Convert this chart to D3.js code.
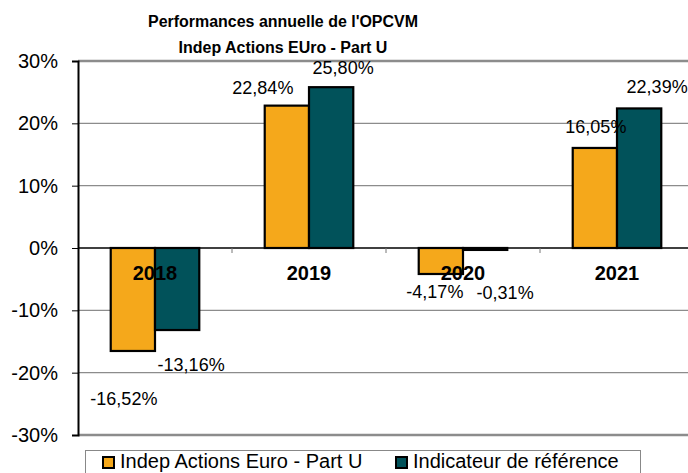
<!DOCTYPE html>
<html>
<head>
<meta charset="utf-8">
<script src="https://cdn.jsdelivr.net/npm/d3@7"></script>
<style>
  body { margin: 0; background: #fff; }
  text { font-family: "Liberation Sans", Arial, sans-serif; }
</style>
</head>
<body>
<div id="container"></div>
<script>
/* DATA */
const years = ["2018", "2019", "2020", "2021"]
const seriesNames = ["Indep Actions Euro - Part U", "Indicateur de référence"]
const fondValues = [-16.52, 22.84, -4.17, 16.05]
const indicValues = [-13.16, 25.80, -0.31, 22.39]
const yTicks = [-30, -20, -10, 0, 10, 20, 30]
const titleLines = ["Performances annuelle de l'OPCVM", "Indep Actions EUro - Part U"]

/* CONSTANTS */
const width = 688,
  height = 473,
  margin = { top: 61, bottom: 38, left: 78, right: -6 },
  colors = ["#F5A81B", "#01525A"]

// hand-placed data labels in the original (dx from bar centre, dy from bar end)
const labelNudge = [
  [[-9, 48], [-24, -18], [-6, 18], [1, -21]],
  [[14, 35], [12, -19], [20, 43], [18, -21]]
]

const rows = years.map((y, i) => ({ year: y, values: [fondValues[i], indicValues[i]] }))

/* SCALES */
const x0 = d3.scaleBand()
  .domain(years)
  .range([margin.left, width - margin.right])
  .paddingInner(0.425)
  .paddingOuter(0.2125)

const x1 = d3.scaleBand()
  .domain([0, 1])
  .range([0, x0.bandwidth()])

const yScale = d3.scaleLinear()
  .domain([-30, 30])
  .range([height - margin.bottom, margin.top])

// plain hyphen and decimal comma like the original
const fmt = v => v.toFixed(2).replace(".", ",") + "%"

/* SVG */
const svg = d3.select("#container")
  .append("svg")
  .attr("width", width)
  .attr("height", height)

// title (a bit condensed, like the original)
svg.append("g")
  .selectAll("text")
  .data(titleLines)
  .join("text")
  .attr("transform", (d, i) => `translate(283,${27 + i * 26}) scale(0.94,1)`)
  .attr("text-anchor", "middle")
  .attr("font-size", 17)
  .attr("font-weight", "bold")
  .text(d => d)

// gridlines
svg.append("g")
  .selectAll("line")
  .data(yTicks.filter(t => t !== 0))
  .join("line")
  .attr("x1", margin.left)
  .attr("x2", width)
  .attr("y1", d => yScale(d))
  .attr("y2", d => yScale(d))
  .attr("stroke", "#8c8c8c")
  .attr("stroke-width", d => (d === 30 || d === -30) ? 2.5 : 1.3)

// y axis
const yAxis = d3.axisLeft(yScale)
  .tickValues(yTicks)
  .tickSize(6)
  .tickPadding(14)
  .tickFormat(d => String(d) + "%")

svg.append("g")
  .attr("transform", `translate(${margin.left},0)`)
  .call(yAxis)
  .call(g => g.select(".domain").attr("stroke-width", 2))
  .call(g => g.selectAll("text").attr("font-size", 20).attr("fill", "#000")
    .attr("font-family", "'Liberation Sans', Arial, sans-serif"))

// bars
const groups = svg.append("g")
  .selectAll("g")
  .data(rows)
  .join("g")
  .attr("transform", d => `translate(${x0(d.year)},0)`)

groups.selectAll("rect")
  .data(d => d.values.map((v, s) => ({ v, s })))
  .join("rect")
  .attr("x", d => x1(d.s))
  .attr("width", x1.bandwidth())
  .attr("y", d => yScale(Math.max(0, d.v)))
  .attr("height", d => Math.abs(yScale(d.v) - yScale(0)))
  .attr("fill", d => colors[d.s])
  .attr("stroke", "#000")
  .attr("stroke-width", 2.2)

// zero line + category ticks
svg.append("line")
  .attr("x1", margin.left)
  .attr("x2", width)
  .attr("y1", yScale(0))
  .attr("y2", yScale(0))
  .attr("stroke", "#000")
  .attr("stroke-width", 1.3)

svg.append("g")
  .selectAll("line")
  .data(d3.range(1, years.length))
  .join("line")
  .attr("x1", i => margin.left + i * x0.step())
  .attr("x2", i => margin.left + i * x0.step())
  .attr("y1", yScale(0))
  .attr("y2", yScale(0) + 5)
  .attr("stroke", "#777")

// category labels
svg.append("g")
  .selectAll("text")
  .data(years)
  .join("text")
  .attr("x", d => x0(d) + x0.bandwidth() / 2)
  .attr("y", yScale(0) + 32)
  .attr("text-anchor", "middle")
  .attr("font-size", 20)
  .attr("font-weight", "bold")
  .text(d => d)

// data labels
groups.selectAll("text.val")
  .data((d, i) => d.values.map((v, s) => ({ v, s, i })))
  .join("text")
  .attr("class", "val")
  .attr("x", d => x1(d.s) + x1.bandwidth() / 2 + labelNudge[d.s][d.i][0])
  .attr("y", d => yScale(d.v) + labelNudge[d.s][d.i][1] + 6)
  .attr("text-anchor", "middle")
  .attr("font-size", 18)
  .text(d => fmt(d.v))

// legend
const legend = svg.append("g")
legend.append("rect")
  .attr("x", 85.5)
  .attr("y", 450.5)
  .attr("width", 555)
  .attr("height", 40)
  .attr("fill", "#fff")
  .attr("stroke", "#888")

const legendX = [103, 396]
const items = legend.selectAll("g")
  .data(seriesNames)
  .join("g")
  .attr("transform", (d, i) => `translate(${legendX[i]},457)`)

items.append("rect")
  .attr("width", 11)
  .attr("height", 11)
  .attr("fill", (d, i) => colors[i])
  .attr("stroke", "#000")
  .attr("stroke-width", 2)

items.append("text")
  .attr("x", 17)
  .attr("y", 11)
  .attr("font-size", 20)
  .text(d => d)
</script>
</body>
</html>
